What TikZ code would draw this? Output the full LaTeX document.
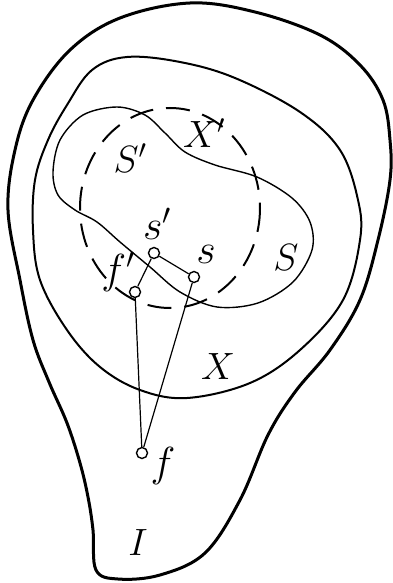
\RequirePackage{fix-cm}
\documentclass[tikz,border=0pt]{standalone}
\begin{document}
\begin{tikzpicture}[x=1pt,y=-1pt,
  outerline/.style={line width=3pt,line join=round},
  xline/.style={line width=2pt},
  sline/.style={line width=1.4pt},
  dashline/.style={line width=2pt,dash pattern=on 24pt off 13pt},
  pt/.style={circle,draw,line width=1.4pt,fill=white,minimum size=11pt,inner sep=0pt},
  conn/.style={line width=1.2pt},
  lab/.style={font=\fontsize{38}{38}\selectfont},
  labs/.style={font=\fontsize{42}{42}\selectfont}]
\useasboundingbox (0,0) rectangle (393,583);
% region I
\draw[outerline] plot[smooth cycle,tension=0.6] coordinates {
 (190,3) (255,12) (320,35) (360,65) (383,100) (390,140) (390,180) (378,240)
 (360,300) (330,350) (295,392) (268,435) (240,500) (205,553) (160,575) (118,579)
 (96,570) (93,530) (88,497) (80,463) (67,423) (49,382) (33,340) (20,280) (8,210) (15,150) (33,100) (70,50) (120,18)};
% region X
\draw[xline] plot[smooth cycle,tension=0.6] coordinates {
 (127,57) (180,62) (235,78) (300,112) (340,150) (358,200) (360,240)
 (343,300) (300,350) (250,383) (187,398) (140,390) (100,367) (67,330) (40,280)
 (33,230) (35,180) (48,140) (67,105) (92,70)};
% region S
\draw[sline] plot[smooth cycle,tension=0.55] coordinates {
 (117,107) (145,115) (165,133) (185,152) (215,165) (257,177) (292,198)
 (310,222) (312,250) (293,282) (258,303) (217,307) (180,292) (150,267) (120,242)
 (97,222) (75,210) (58,195) (53,172) (60,140) (83,115)};
% dashed S'
\draw[dashline] (170,208) ellipse [x radius=90, y radius=100];
% points
\node[pt] (sp) at (154,253) {};
\node[pt] (s)  at (194,277) {};
\node[pt] (fp) at (135,292) {};
\node[pt] (f)  at (142,453) {};
\draw[conn] (sp) -- (s);
\draw[conn] (sp) -- (fp);
\draw[conn] (fp) -- (f);
\draw[conn] (s) -- (f);
% labels
\node[lab] (lSp) at (130,158) {$S'$};
\node[lab] (lXp) at (204,133) {$X'$};
\node[labs] (lsp) at (157,224) {$s'$};
\node[labs] (ls) at (206,254) {$s$};
\node[lab] (lS) at (286,258) {$S$};
\node[labs] (lfp) at (118,272) {$f'$};
\node[lab] (lX) at (218,367) {$X$};
\node[labs] (lf) at (163,466) {$f$};
\node[lab] (lI) at (138,543) {$I$};
\end{tikzpicture}
\end{document}
